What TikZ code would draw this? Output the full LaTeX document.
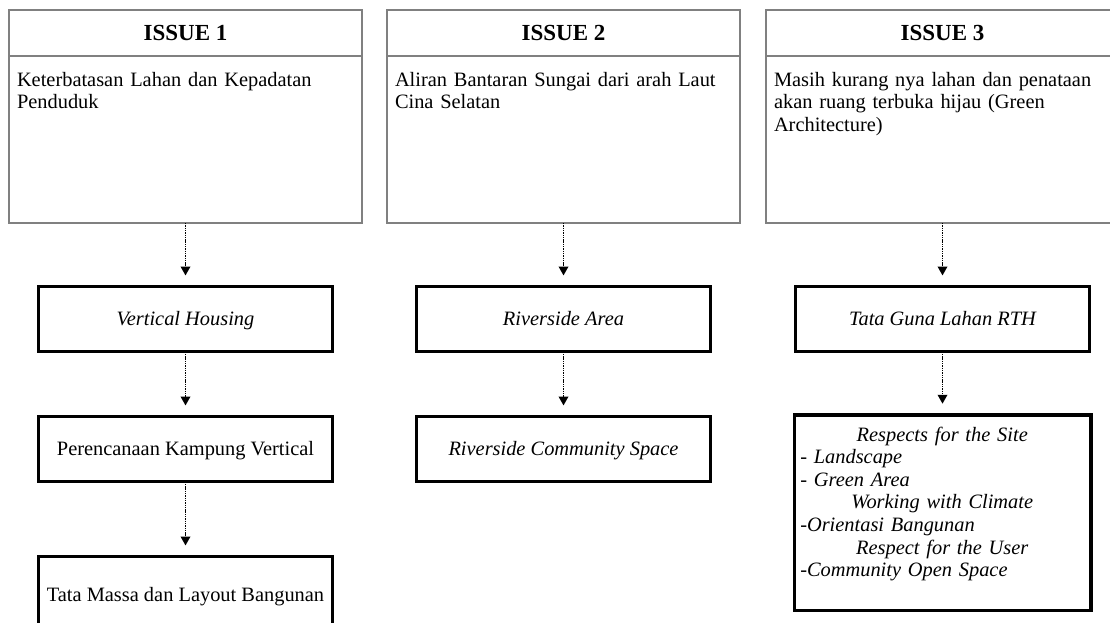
\documentclass[tikz,border=0pt]{standalone}
\usepackage{fontspec}
\setmainfont{Liberation Serif}
\usepackage{tikz}
\usetikzlibrary{arrows.meta,positioning,calc}

\tikzset{
 every node/.style={font=\fontsize{20.4}{22.6}\selectfont, inner sep=0pt, outer sep=0pt},
 headbox/.style={draw=black!50, line width=1.5pt, minimum width=353pt, minimum height=46pt, font=\fontsize{23}{26}\selectfont\bfseries},
 bodybox/.style={draw=black!50, line width=1.5pt, minimum width=353pt, minimum height=167pt},
 bodytext/.style={anchor=north west, text width=336pt, align=left},
 stepbox/.style={draw, line width=3.5pt, minimum width=294pt, minimum height=65pt, text height=15.5pt, text depth=2.5pt},
 ital/.style={font=\fontsize{20.4}{22.6}\selectfont\itshape},
 flow/.style={->, line width=1.9pt, dash pattern=on 1.4pt off 0.9pt, shorten >=11pt}
}

\begin{document}
\begin{tikzpicture}[x=1pt,y=-1pt,>={Triangle[length=9pt,width=9.5pt]}]
\useasboundingbox (0,0) rectangle (1110,623);
%===issue 1===
\node[headbox] (h1) at (185.5,33) {ISSUE 1};
\node[bodybox, below=0pt of h1] (b1) {};
\node[bodytext] (t1) at ($(b1.north west)+(8,16)$) {Keterbatasan Lahan dan Kepadatan\\Penduduk};
\node[stepbox, ital] (vh) at (185.5,319) {Vertical Housing};
\node[stepbox] (pk) at (185.5,449) {Perencanaan Kampung Vertical};
\node[stepbox, minimum height=76pt] (tm) at (185.5,594.5) {Tata Massa dan Layout Bangunan};
%===issue 2===
\node[headbox] (h2) at (563.5,33) {ISSUE 2};
\node[bodybox, below=0pt of h2] (b2) {};
\node[bodytext] (t2) at ($(b2.north west)+(8,16)$) {Aliran Bantaran Sungai dari arah Laut\\Cina Selatan};
\node[stepbox, ital] (ra) at (563.5,319) {Riverside Area};
\node[stepbox, ital] (rc) at (563.5,449) {Riverside Community Space};
%===issue 3===
\node[headbox] (h3) at (942.5,33) {ISSUE 3};
\node[bodybox, below=0pt of h3] (b3) {};
\node[bodytext] (t3) at ($(b3.north west)+(8,16)$) {Masih kurang nya lahan dan penataan\\akan ruang terbuka hijau (Green\\Architecture)};
\node[stepbox, ital] (tg) at (942.5,319) {Tata Guna Lahan RTH};
\node[stepbox, minimum width=296.5pt, minimum height=195.5pt] (rs) at (942.5,512.5) {};
\node[bodytext, ital, text width=284pt] (rt) at ($(rs.north west)+(6,12)$) {%
 \makebox[\linewidth]{Respects for the Site}\\
 - Landscape\\
 - Green Area\\
 \makebox[\linewidth]{Working with Climate}\\
 -Orientasi Bangunan\\
 \makebox[\linewidth]{Respect for the User}\\
 -Community Open Space};
%===arrows===
\draw[flow] (b1) -- (vh);
\draw[flow] (vh) -- (pk);
\draw[flow] (pk) -- (tm);
\draw[flow] (b2) -- (ra);
\draw[flow] (ra) -- (rc);
\draw[flow] (b3) -- (tg);
\draw[flow] (tg) -- (rs);
\end{tikzpicture}
\end{document}
